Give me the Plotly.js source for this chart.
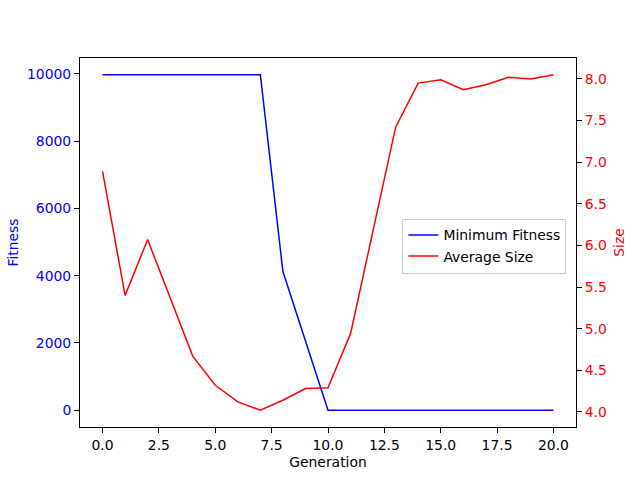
<!DOCTYPE html>
<html>
<head>
<meta charset="utf-8">
<script src="https://cdn.plot.ly/plotly-3.0.1.min.js"></script>
<style>
  body { margin: 0; }
  #chart { width: 640px; height: 480px; }
</style>
</head>
<body>
<div id="chart"></div>
<script>
// generations 0..20
var generation = [0, 1, 2, 3, 4, 5, 6, 7, 8, 9, 10, 11, 12, 13, 14, 15, 16, 17, 18, 19, 20];
var minFitness = [9970, 9970, 9970, 9970, 9970, 9970, 9970, 9970, 4120, 2060, 0,
                  0, 0, 0, 0, 0, 0, 0, 0, 0, 0];
var avgSize = [6.89, 5.40, 6.07, 5.37, 4.67, 4.32, 4.12, 4.02, 4.14, 4.28, 4.29,
               4.94, 6.20, 7.42, 7.95, 7.99, 7.87, 7.93, 8.02, 8.00, 8.05];

var fnt = 'DejaVu Sans, sans-serif';

var traceFit = {
  x: generation,
  y: minFitness,
  name: 'Minimum Fitness',
  type: 'scatter',
  mode: 'lines',
  line: {color: 'blue', width: 1.5}
};

var traceSize = {
  x: generation,
  y: avgSize,
  name: 'Average Size',
  type: 'scatter',
  mode: 'lines',
  yaxis: 'y2',
  line: {color: 'red', width: 1.5}
};

var layout = {
  width: 640,
  height: 480,
  margin: {l: 80, r: 64, t: 57.6, b: 52.8},
  paper_bgcolor: 'white',
  plot_bgcolor: 'white',
  font: {family: fnt, size: 13.9, color: 'black'},
  showlegend: true,
  legend: {
    x: 0.65, y: 0.565, xanchor: 'left', yanchor: 'top',
    bgcolor: 'rgba(255,255,255,0.8)',
    bordercolor: '#cccccc', borderwidth: 1,
    font: {family: fnt, size: 13.9, color: 'black'}
  },
  xaxis: {
    title: {text: 'Generation', font: {size: 13.9}, standoff: 5},
    range: [-1, 21],
    dtick: 2.5,
    tick0: 0,
    tickformat: '.1f',
    showgrid: false,
    zeroline: false,
    showline: true,
    linecolor: 'black',
    linewidth: 1,
    mirror: true,
    ticks: 'outside',
    ticklen: 5,
    tickcolor: 'black'
  },
  yaxis: {
    title: {text: 'Fitness', font: {size: 13.9, color: 'blue'}, standoff: 5},
    range: [-498.5, 10468.5],
    dtick: 2000,
    tickformat: 'd',
    tickfont: {color: 'blue'},
    showgrid: false,
    zeroline: false,
    showline: true,
    linecolor: 'black',
    linewidth: 1,
    ticks: 'outside',
    ticklen: 5,
    tickcolor: 'black'
  },
  yaxis2: {
    title: {text: 'Size', font: {size: 13.9, color: 'red'}, standoff: 8},
    overlaying: 'y',
    side: 'right',
    range: [3.8185, 8.2515],
    dtick: 0.5,
    tick0: 4,
    tickformat: '.1f',
    tickfont: {color: 'red'},
    showgrid: false,
    zeroline: false,
    showline: true,
    linecolor: 'black',
    linewidth: 1,
    ticks: 'outside',
    ticklen: 5,
    tickcolor: 'black'
  }
};

Plotly.newPlot('chart', [traceFit, traceSize], layout, {displayModeBar: false, staticPlot: true});
</script>
</body>
</html>
